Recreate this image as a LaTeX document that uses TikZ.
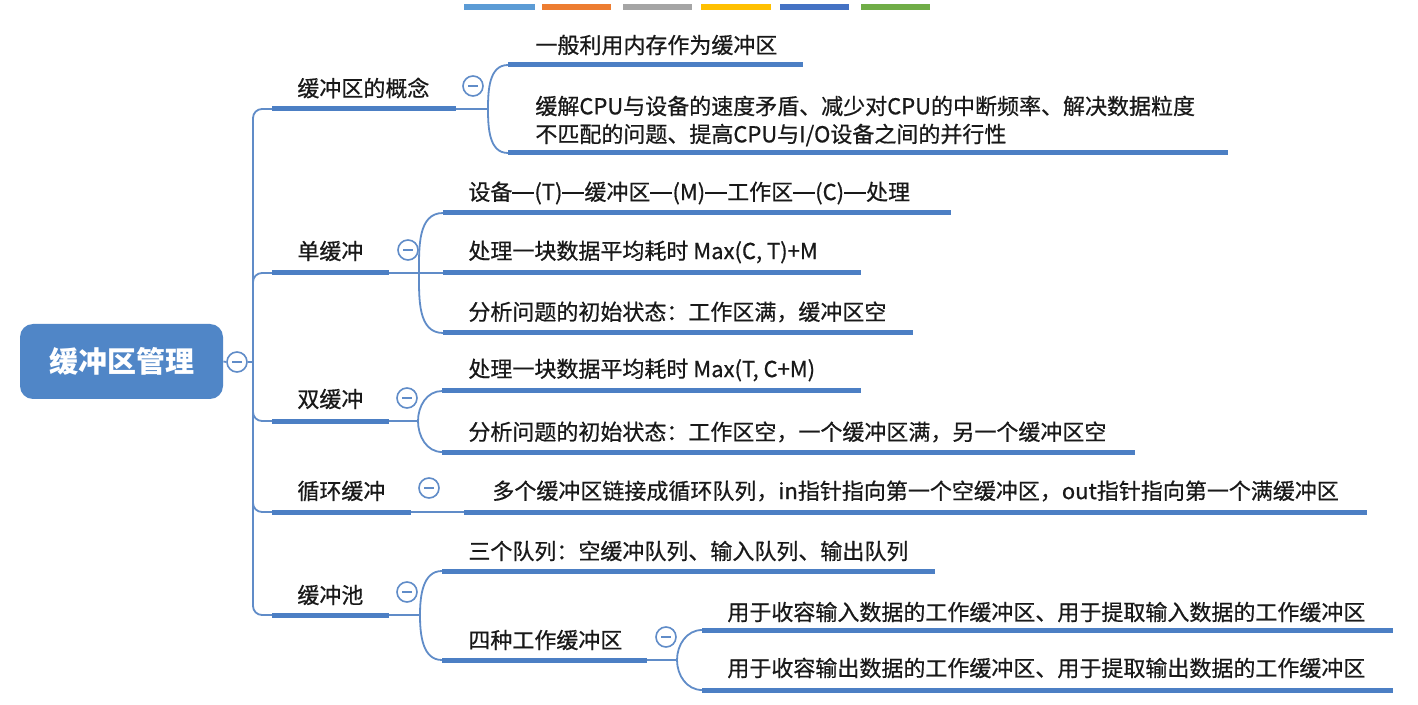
\documentclass[tikz,border=0pt]{standalone}
\usepackage{fontspec}
\newfontfamily\cjk[FakeBold=0.6]{Noto Sans CJK SC}
\newfontfamily\cjkroot{Noto Sans CJK SC}
\newcommand\mydash{\rule[0.30em]{1em}{0.065em}}
\definecolor{lineblue}{RGB}{76,127,196}
\definecolor{rootblue}{RGB}{80,134,199}
\definecolor{thinblue}{RGB}{96,140,200}
\definecolor{txt}{RGB}{25,25,25}
\definecolor{barA}{RGB}{91,155,213}
\definecolor{barB}{RGB}{237,125,49}
\definecolor{barC}{RGB}{165,165,165}
\definecolor{barD}{RGB}{255,192,0}
\definecolor{barE}{RGB}{68,114,196}
\definecolor{barF}{RGB}{112,173,71}
\tikzset{
  ul/.style={line width=2.5pt, draw=lineblue},
  conn/.style={line width=0.9pt, draw=thinblue},
  lbl/.style={anchor=west, inner sep=0pt, text=txt, font=\cjk\fontsize{11}{14}\selectfont},
  tog/.style={circle, draw=thinblue, line width=0.8pt, fill=white, minimum size=10pt, inner sep=0pt,
    path picture={\draw[thinblue, line width=0.8pt] ([xshift=-2.3pt]path picture bounding box.center) -- ([xshift=2.3pt]path picture bounding box.center);}},
  rootbox/.style={rectangle, rounded corners=6.5pt, fill=rootblue, minimum width=101.5pt, minimum height=37.5pt, text=white, font=\cjkroot\fontsize{14.5}{17}\selectfont\bfseries},
  bar/.style={line width=3pt}
}
\begin{document}
\begin{tikzpicture}[x=0.5pt, y=-0.5pt]
\useasboundingbox[fill=white] (0,0) rectangle (1418,705);
% palette bars
\draw[bar, barA] (464,7) -- (535,7);
\draw[bar, barB] (542,7) -- (611,7);
\draw[bar, barC] (623,7) -- (692,7);
\draw[bar, barD] (701,7) -- (771,7);
\draw[bar, barE] (780,7) -- (849,7);
\draw[bar, barF] (861,7) -- (930,7);

% root
\node[rootbox] (root) at (121.5,361.5) {缓冲区管理};
\coordinate (tj) at (253,362);

% coordinates of underlines
\coordinate (b1s) at (272,109);  \coordinate (b1e) at (456,109);
\coordinate (c11s) at (508,65);  \coordinate (c11e) at (803,65);
\coordinate (c12s) at (508,153); \coordinate (c12e) at (1228,153);
\coordinate (j1) at (488,109);

\coordinate (b2s) at (272,273);  \coordinate (b2e) at (389,273);
\coordinate (c21s) at (443,213); \coordinate (c21e) at (951,213);
\coordinate (c22s) at (443,273); \coordinate (c22e) at (861,273);
\coordinate (c23s) at (443,333); \coordinate (c23e) at (913,333);
\coordinate (j2) at (419,273);

\coordinate (b3s) at (272,421);  \coordinate (b3e) at (389,421);
\coordinate (c31s) at (442,391); \coordinate (c31e) at (861,391);
\coordinate (c32s) at (442,452); \coordinate (c32e) at (1135,452);
\coordinate (j3) at (418,421);

\coordinate (b4s) at (272,512);  \coordinate (b4e) at (411,512);
\coordinate (c41s) at (464,512); \coordinate (c41e) at (1367,512);

\coordinate (b5s) at (272,615);  \coordinate (b5e) at (389,615);
\coordinate (c51s) at (442,571); \coordinate (c51e) at (935,571);
\coordinate (c52s) at (442,660); \coordinate (c52e) at (647,660);
\coordinate (j5) at (420,615);
\coordinate (c521s) at (702,630); \coordinate (c521e) at (1393,630);
\coordinate (c522s) at (702,690); \coordinate (c522e) at (1393,690);
\coordinate (j52) at (677,660);

% trunk
\node[tog] (rt) at (237,362) {};
\draw[conn] (root.east) -- (rt.west);
\draw[conn] (rt.east) -- (tj);
\foreach \b in {b1s,b2s,b3s,b4s,b5s}
  \draw[conn, rounded corners=4.5pt] (tj) |- (\b);

% brackets
\draw[conn] (b1e) -- (j1);
\draw[conn] (j1) to[out=90,in=180] (c11s);
\draw[conn] (j1) to[out=-90,in=180] (c12s);

\draw[conn] (b2e) -- (j2) -- (c22s);
\draw[conn] (j2) to[out=90,in=180] (c21s);
\draw[conn] (j2) to[out=-90,in=180] (c23s);

\draw[conn] (b3e) -- (j3);
\draw[conn] (j3) to[out=90,in=180] (c31s);
\draw[conn] (j3) to[out=-90,in=180] (c32s);

\draw[conn] (b4e) -- (c41s);

\draw[conn] (b5e) -- (j5);
\draw[conn] (j5) to[out=90,in=180] (c51s);
\draw[conn] (j5) to[out=-90,in=180] (c52s);

\draw[conn] (c52e) -- (j52);
\draw[conn] (j52) to[out=90,in=180] (c521s);
\draw[conn] (j52) to[out=-90,in=180] (c522s);

% underlines
\foreach \u in {b1,c11,c12,b2,c21,c22,c23,b3,c31,c32,b4,c41,b5,c51,c52,c521,c522}
  \draw[ul] (\u s) -- (\u e);

% toggles
\node[tog] (t1) at (473,86) {};
\node[tog] (t2) at (408,250) {};
\node[tog] (t3) at (407,398) {};
\node[tog] (t4) at (429,488) {};
\node[tog] (t5) at (407,592) {};
\node[tog] (t52) at (666,637) {};

% labels
\node[lbl] (l1) at (297,88) {缓冲区的概念};
\node[lbl] (l11) at (535,45) {一般利用内存作为缓冲区};
\node[lbl, align=left] (l12) at (535,121) {缓解CPU与设备的速度矛盾、减少对CPU的中断频率、解决数据粒度\\不匹配的问题、提高CPU与I/O设备之间的并行性};

\node[lbl] (l2) at (297,251) {单缓冲};
\node[lbl] (l21) at (468,193) {设备\mydash(T)\mydash 缓冲区\mydash(M)\mydash 工作区\mydash(C)\mydash 处理};
\node[lbl] (l22) at (468,252) {处理一块数据平均耗时 Max(C, T)+M};
\node[lbl] (l23) at (468,312) {分析问题的初始状态：工作区满，缓冲区空};

\node[lbl] (l3) at (297,399) {双缓冲};
\node[lbl] (l31) at (468,370) {处理一块数据平均耗时 Max(T, C+M)};
\node[lbl] (l32) at (468,432) {分析问题的初始状态：工作区空，一个缓冲区满，另一个缓冲区空};

\node[lbl] (l4) at (297,491) {循环缓冲};
\node[lbl] (l41) at (492,491) {多个缓冲区链接成循环队列，in指针指向第一个空缓冲区，out指针指向第一个满缓冲区};

\node[lbl] (l5) at (297,595) {缓冲池};
\node[lbl] (l51) at (468,551) {三个队列：空缓冲队列、输入队列、输出队列};
\node[lbl] (l52) at (468,640) {四种工作缓冲区};
\node[lbl] (l521) at (727,612) {用于收容输入数据的工作缓冲区、用于提取输入数据的工作缓冲区};
\node[lbl] (l522) at (727,668) {用于收容输出数据的工作缓冲区、用于提取输出数据的工作缓冲区};
\end{tikzpicture}
\end{document}
